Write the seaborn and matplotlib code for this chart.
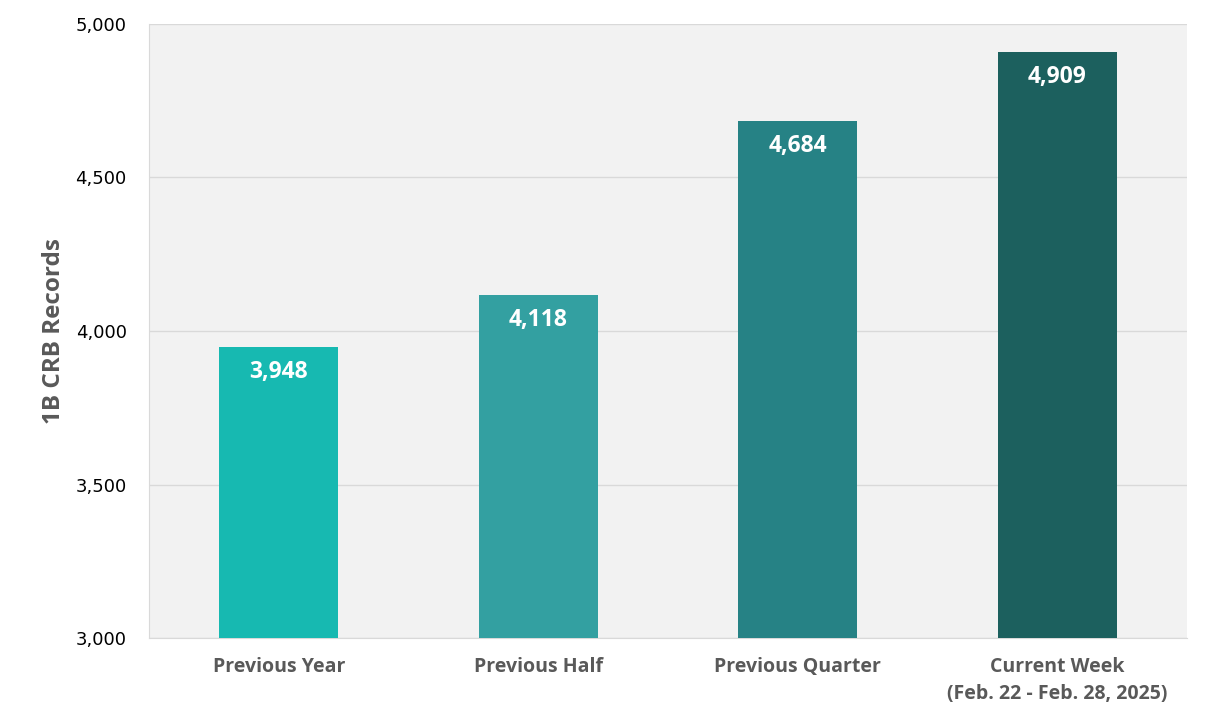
import pandas as pd
import seaborn as sns
import matplotlib.pyplot as plt

periodos = ['Previous Year', 'Previous Half', 'Previous Quarter', 'Current Week\n(Feb. 22 - Feb. 28, 2025)']
registros = [3948, 4118, 4684, 4909]
colores = ['#17B9B1', '#33A0A1', '#268285', '#1C605E']
yticks = [3000, 3500, 4000, 4500, 5000]

df = pd.DataFrame({'periodo': periodos, 'registros': registros})

sns.set_style("white")
fig = plt.figure(figsize=(12.1, 7.22), dpi=100)
ax = fig.add_axes([0.1231, 0.1163, 0.8579, 0.8505])

sns.barplot(x='periodo', y='registros', hue='periodo', data=df, palette=colores,
            legend=False, width=0.46, saturation=1, linewidth=0, ax=ax, zorder=3)

ax.set_facecolor('#F2F2F2')
ax.set_ylim(3000, 5000)
ax.set_yticks(yticks)
ax.set_yticklabels([f'{v:,}' for v in yticks], fontsize=13, family='DejaVu Sans', color='black')
ax.grid(axis='y', color='#D9D9D9', linewidth=1, zorder=0)
ax.set_axisbelow(True)
for s in ['top', 'right']:
    ax.spines[s].set_visible(False)
ax.spines['left'].set_color('#D9D9D9')
ax.spines['bottom'].set_color('#D9D9D9')
ax.tick_params(axis='y', length=6, color='#D9D9D9', pad=10)
ax.tick_params(axis='x', length=0, pad=14)

ax.set_xticks(range(len(periodos)))
ax.set_xticklabels(periodos, fontsize=14, fontweight='bold', color='#595959',
                   family='Open Sans', linespacing=1.45)
ax.set_xlabel('')
ax.set_ylabel('1B CRB Records', fontsize=17.5, fontweight='bold', color='#595959',
              family='Open Sans', labelpad=7)

for i, v in enumerate(registros):
    ax.text(i, v - 42, f'{v:,}', ha='center', va='top', color='white',
            fontsize=16.5, fontweight='bold', family='Open Sans', zorder=4)

fig.savefig('out.png', dpi=100)
